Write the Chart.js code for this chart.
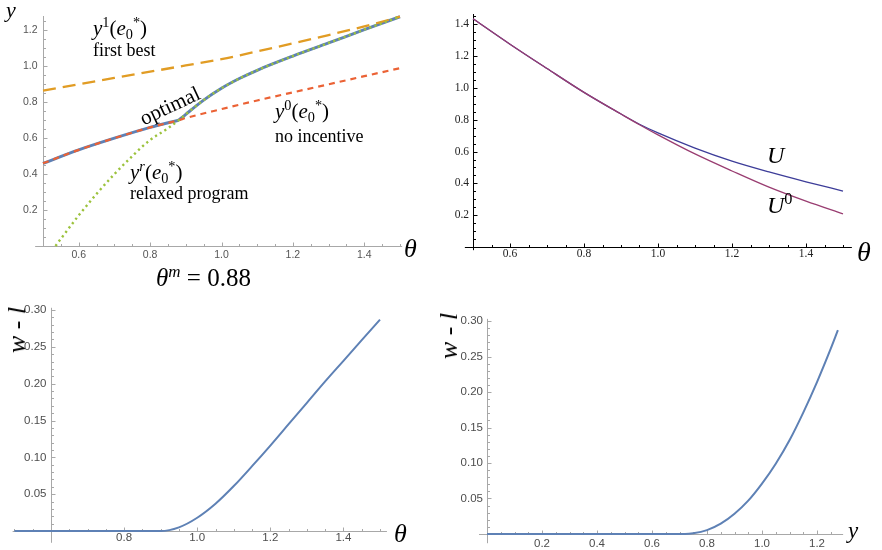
<!DOCTYPE html>
<html><head><meta charset="utf-8">
<script src="https://cdn.jsdelivr.net/npm/chart.js@4.4.1/dist/chart.umd.min.js"></script>
<style>
html,body{margin:0;padding:0;background:#fff;}
#wrap{position:relative;width:882px;height:550px;overflow:hidden;background:#fff;}
canvas{position:absolute;}
.t{position:absolute;font-family:"Liberation Serif","Times New Roman",serif;color:#000;line-height:1;white-space:nowrap;}
.t i{font-style:italic;}
.t sup,.t sub{font-size:0.68em;line-height:0;position:relative;vertical-align:baseline;}
.t sup{top:-0.55em;}
.t sub{top:0.3em;}
.rot{transform:translate(-50%,-50%) rotate(-90deg);}
</style></head><body>
<div id="wrap">
<canvas id="c1" width="440" height="290" style="left:0;top:0"></canvas>
<canvas id="c2" width="442" height="290" style="left:440px;top:0"></canvas>
<canvas id="c3" width="440" height="260" style="left:0;top:290px"></canvas>
<canvas id="c4" width="442" height="260" style="left:440px;top:290px"></canvas>

<div class="t" style="left:6px;top:-1px;font-size:22px"><i>y</i></div>
<div class="t" style="left:93px;top:18px;font-size:21px"><i>y</i><sup>1</sup>(<i>e</i><sub>0</sub><sup>*</sup>)</div>
<div class="t" style="left:93px;top:41px;font-size:18px">first best</div>
<div class="t" style="left:170px;top:106px;font-size:21px;transform:translate(-50%,-50%) rotate(-25deg)">optimal</div>
<div class="t" style="left:275px;top:101px;font-size:21px"><i>y</i><sup>0</sup>(<i>e</i><sub>0</sub><sup>*</sup>)</div>
<div class="t" style="left:275px;top:127px;font-size:18px">no incentive</div>
<div class="t" style="left:130px;top:162px;font-size:21px"><i>y</i><sup><i>r</i></sup>(<i>e</i><sub>0</sub><sup>*</sup>)</div>
<div class="t" style="left:130px;top:184px;font-size:18px">relaxed program</div>
<div class="t" style="left:156px;top:265px;font-size:25px"><i>θ</i><sup><i>m</i></sup> = 0.88</div>
<div class="t" style="left:404px;top:236px;font-size:26px"><i>θ</i></div>

<div class="t" style="left:767px;top:143px;font-size:24px"><i>U</i></div>
<div class="t" style="left:767px;top:193px;font-size:24px"><i>U</i><sup>0</sup></div>
<div class="t" style="left:857px;top:238px;font-size:28px"><i>θ</i></div>

<div class="t rot" style="left:17px;top:330px;font-size:26px"><i>w</i> - <i>l</i></div>
<div class="t" style="left:394px;top:521px;font-size:26px"><i>θ</i></div>
<div class="t rot" style="left:449px;top:336px;font-size:26px"><i>w</i> - <i>l</i></div>
<div class="t" style="left:848px;top:519px;font-size:23px"><i>y</i></div>
</div>
<script>
// ---------- Panel 1: output y vs theta ----------
const thetaP1 = [0.5, 0.6, 0.7, 0.8, 0.88, 0.9, 1.0, 1.1, 1.2, 1.3, 1.4, 1.5];
const firstBest = [0.865, 0.90, 0.935, 0.97, 0.998, 1.005, 1.04, 1.083, 1.128, 1.174, 1.222, 1.276];
const noIncentive = [0.46, 0.535, 0.60, 0.66, 0.70, 0.712, 0.762, 0.81, 0.855, 0.90, 0.945, 0.99];
const thetaRelaxed = [0.535, 0.55, 0.6, 0.65, 0.7, 0.75, 0.8, 0.85, 0.88, 0.9, 0.95, 1.0, 1.05, 1.1, 1.2, 1.3, 1.4, 1.5];
const relaxed = [0.0, 0.04, 0.17, 0.29, 0.40, 0.50, 0.59, 0.655, 0.70, 0.733, 0.812, 0.878, 0.932, 0.978, 1.057, 1.13, 1.204, 1.276];
const thetaOptLow = [0.5, 0.6, 0.7, 0.8, 0.88];
const optimalLow = [0.46, 0.535, 0.60, 0.66, 0.70];
const thetaOptHigh = [0.88, 0.9, 0.95, 1.0, 1.05, 1.1, 1.2, 1.3, 1.4, 1.5];
const optimalHigh = [0.70, 0.733, 0.812, 0.878, 0.932, 0.978, 1.057, 1.13, 1.204, 1.276];
const p1XTicks = [0.6, 0.8, 1.0, 1.2, 1.4];
const p1YTicks = [0.2, 0.4, 0.6, 0.8, 1.0, 1.2];

// ---------- Panel 2: utilities ----------
const thetaP2 = [0.5, 0.6, 0.7, 0.8, 0.9, 0.95, 1.0, 1.1, 1.2, 1.3, 1.4, 1.5];
const utilU = [1.435, 1.275, 1.122, 0.972, 0.836, 0.772, 0.717, 0.622, 0.540, 0.472, 0.410, 0.352];
const utilU0 = [1.435, 1.275, 1.122, 0.972, 0.836, 0.769, 0.705, 0.585, 0.478, 0.376, 0.288, 0.208];
const p2XTicks = [0.6, 0.8, 1.0, 1.2, 1.4];
const p2YTicks = [0.2, 0.4, 0.6, 0.8, 1.0, 1.2, 1.4];

// ---------- Panel 3: w - l vs theta ----------
const thetaP3 = [0.5, 0.6, 0.7, 0.8, 0.9, 0.95, 1.0, 1.05, 1.1, 1.15, 1.2, 1.25, 1.3, 1.35, 1.4, 1.45, 1.5];
const wlTheta = [0, 0, 0, 0, 0, 0.005, 0.018, 0.037, 0.061, 0.088, 0.116, 0.145, 0.174, 0.203, 0.231, 0.259, 0.287];
const p3XTicks = [0.8, 1.0, 1.2, 1.4];
const p3YTicks = [0.05, 0.10, 0.15, 0.20, 0.25, 0.30];

// ---------- Panel 4: w - l vs y ----------
const yP4 = [0, 0.2, 0.4, 0.6, 0.72, 0.75, 0.8, 0.85, 0.9, 0.95, 1.0, 1.05, 1.1, 1.15, 1.2, 1.25, 1.276];
const wlY = [0, 0, 0, 0, 0, 0.001, 0.0055, 0.0146, 0.0286, 0.047, 0.071, 0.099, 0.132, 0.171, 0.214, 0.261, 0.287];
const p4XTicks = [0.2, 0.4, 0.6, 0.8, 1.0, 1.2];
const p4YTicks = [0.05, 0.10, 0.15, 0.20, 0.25, 0.30];

const C = { blue:'#5E81B5', orange:'#E19C24', green:'#9CC23C', red:'#EB6235', mBlue:'#3D3D99', mPurple:'#993D71' };

function pts(xs, ys){ return xs.map((x,i)=>({x:x, y:ys[i]})); }
function line(xs, ys, color, width, dash, order){
  return { data: pts(xs, ys), borderColor: color, borderWidth: width, borderDash: dash||[],
    borderCapStyle:'butt', pointRadius:0, fill:false, cubicInterpolationMode:'monotone', clip:false, order: order };
}
function range(a, b, s){ const r=[]; for(let v=a; v<=b+1e-9; v+=s) r.push(+v.toFixed(4)); return r; }

function axesPlugin(o){
  return { id:'mAxes', beforeDatasetsDraw(chart){
    const {ctx, scales:{x, y}} = chart;
    const ox = Math.round(x.getPixelForValue(o.yAxisAt)) + 0.5;
    const oy = Math.round(y.getPixelForValue(o.xAxisAt)) + 0.5;
    ctx.save();
    ctx.strokeStyle = o.axisColor; ctx.lineWidth = 1;
    ctx.beginPath();
    ctx.moveTo(x.getPixelForValue(o.xAxisFrom), oy); ctx.lineTo(x.getPixelForValue(o.xAxisTo), oy);
    ctx.moveTo(ox, y.getPixelForValue(o.yAxisFrom)); ctx.lineTo(ox, y.getPixelForValue(o.yAxisTo));
    o.xMinor.forEach(v=>{ const p=Math.round(x.getPixelForValue(v))+0.5; ctx.moveTo(p,oy); ctx.lineTo(p,oy-o.minorLen); });
    o.xTicks.forEach(v=>{ const p=Math.round(x.getPixelForValue(v))+0.5; ctx.moveTo(p,oy); ctx.lineTo(p,oy-o.majorLen); });
    o.yMinor.forEach(v=>{ const p=Math.round(y.getPixelForValue(v))+0.5; ctx.moveTo(ox,p); ctx.lineTo(ox+o.minorLen,p); });
    o.yTicks.forEach(v=>{ const p=Math.round(y.getPixelForValue(v))+0.5; ctx.moveTo(ox,p); ctx.lineTo(ox+o.majorLen,p); });
    ctx.stroke();
    ctx.restore();
  }};
}

function makeChart(id, o){
  return new Chart(document.getElementById(id), {
    type:'line',
    data:{ datasets:o.datasets },
    options:{
      responsive:false, animation:false, events:[],
      layout:{ padding:{ left:0, top:o.top, right:o.right, bottom:0 } },
      plugins:{ legend:{display:false}, tooltip:{enabled:false} },
      scales:{
        x:{ type:'linear', position:'bottom', min:o.xMin, max:o.xMax,
            grid:{display:false, drawTicks:false}, border:{display:false},
            ticks:{ autoSkip:false, maxRotation:0, padding:o.xPad, color:o.tickColor, font:o.tickFont,
                    callback:(v)=>Number(v).toFixed(o.xDec) },
            afterBuildTicks:(s)=>{ s.ticks = o.xTicks.map(v=>({value:v})); },
            afterFit:(s)=>{ s.height = o.xH; s.paddingLeft = 0; s.paddingRight = 0; } },
        y:{ type:'linear', position:'left', min:o.yMin, max:o.yMax,
            grid:{display:false, drawTicks:false}, border:{display:false},
            ticks:{ autoSkip:false, padding:o.yPad, color:o.tickColor, font:o.tickFont,
                    callback:(v)=>Number(v).toFixed(o.yDec) },
            afterBuildTicks:(s)=>{ s.ticks = o.yTicks.map(v=>({value:v})); },
            afterFit:(s)=>{ s.width = o.left; s.paddingTop = 0; s.paddingBottom = 0; } }
      }
    },
    plugins:[axesPlugin(o)]
  });
}

const sansFont = { family:'"Liberation Sans", Arial, sans-serif', size:10.5 };
const sansFont2 = { family:'"Liberation Sans", Arial, sans-serif', size:11.5 };
const serifFont = { family:'"Liberation Serif", "Times New Roman", serif', size:11.5 };

// Panel 1
makeChart('c1', {
  left:43, top:16, right:40, xH:44, xMin:0.5, xMax:1.5, yMin:0, yMax:1.28,
  xTicks:p1XTicks, yTicks:p1YTicks, xDec:1, yDec:1, xPad:2.5, yPad:5.5,
  tickColor:'#555', tickFont:sansFont, axisColor:'#a8a8a8',
  xAxisAt:0, yAxisAt:0.5, xAxisFrom:0.478, xAxisTo:1.506, yAxisFrom:0, yAxisTo:1.28,
  xMinor:range(0.5,1.5,0.05), yMinor:range(0.05,1.25,0.05), minorLen:2.5, majorLen:4,
  datasets:[
    line(thetaOptLow, optimalLow, C.blue, 3, [], 5),
    line(thetaOptHigh, optimalHigh, C.blue, 3, [], 5),
    line(thetaP1, firstBest, C.orange, 2.3, [13,7], 3),
    line(thetaP1, noIncentive, C.red, 2.2, [6,5], 2),
    line(thetaRelaxed, relaxed, C.green, 2.4, [2.2,3.3], 1)
  ]
});

// Panel 2
makeChart('c2', {
  left:33, top:14, right:39, xH:43, xMin:0.5, xMax:1.5, yMin:0, yMax:1.465,
  xTicks:p2XTicks, yTicks:p2YTicks, xDec:1, yDec:1, xPad:0, yPad:4,
  tickColor:'#222', tickFont:serifFont, axisColor:'#000',
  xAxisAt:0, yAxisAt:0.5, xAxisFrom:0.478, xAxisTo:1.524, yAxisFrom:-0.02, yAxisTo:1.465,
  xMinor:range(0.5,1.5,0.05), yMinor:range(0.05,1.45,0.05), minorLen:2.5, majorLen:4,
  datasets:[
    line(thetaP2, utilU, C.mBlue, 1.3, [], 2),
    line(thetaP2, utilU0, C.mPurple, 1.3, [], 1)
  ]
});

// Panel 3
makeChart('c3', {
  left:51, top:20, right:60, xH:19, xMin:0.6, xMax:1.5, yMin:0, yMax:0.30,
  xTicks:p3XTicks, yTicks:p3YTicks, xDec:1, yDec:2, xPad:0, yPad:4.5,
  tickColor:'#4d4d4d', tickFont:sansFont2, axisColor:'#a8a8a8',
  xAxisAt:0, yAxisAt:0.6, xAxisFrom:0.495, xAxisTo:1.519, yAxisFrom:-0.016, yAxisTo:0.303,
  xMinor:range(0.5,1.5,0.05), yMinor:range(0.01,0.30,0.01), minorLen:2.5, majorLen:4,
  datasets:[ line(thetaP3, wlTheta, C.blue, 2, [], 1) ]
});

// Panel 4
makeChart('c4', {
  left:47, top:31, right:43, xH:16, xMin:0, xMax:1.28, yMin:0, yMax:0.30,
  xTicks:p4XTicks, yTicks:p4YTicks, xDec:1, yDec:2, xPad:3, yPad:4,
  tickColor:'#4d4d4d', tickFont:sansFont2, axisColor:'#a8a8a8',
  xAxisAt:0, yAxisAt:0, xAxisFrom:-0.029, xAxisTo:1.295, yAxisFrom:-0.013, yAxisTo:0.303,
  xMinor:range(0.05,1.25,0.05), yMinor:range(0.01,0.30,0.01), minorLen:2.5, majorLen:4,
  datasets:[ line(yP4, wlY, C.blue, 2, [], 1) ]
});
</script>
</body></html>
